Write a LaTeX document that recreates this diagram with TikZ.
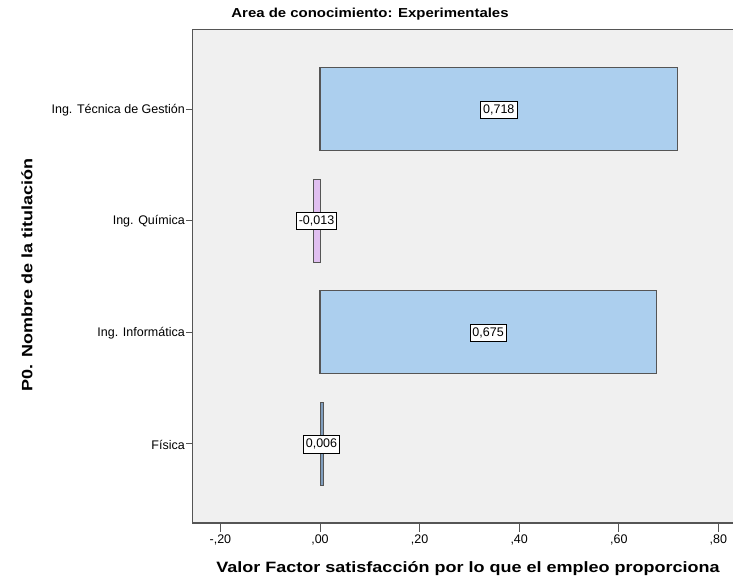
\documentclass[tikz,border=0pt]{standalone}
\usepackage{fontspec}
\setmainfont{Liberation Sans}
\usetikzlibrary{calc}

\definecolor{plotbg}{HTML}{F0F0F0}
\definecolor{framegray}{HTML}{555555}
\definecolor{barblue}{HTML}{ACCFEE}
\definecolor{barlilac}{HTML}{E0BFF0}
\definecolor{barsteel}{HTML}{7F9DBD}

\begin{document}
\begin{tikzpicture}[x=1pt,y=-1pt,
    bar/.style={draw=framegray,line width=1.2pt},
    valbox/.style={draw=black,fill=white,line width=0.8pt,inner xsep=2.5pt,inner ysep=3.5pt,font=\fontsize{12.5}{12.5}\selectfont},
    catlabel/.style={anchor=east,inner sep=1pt,font=\fontsize{12.5}{12.5}\selectfont},
    ticklabel/.style={anchor=north,inner sep=1pt,font=\fontsize{12.5}{12.5}\selectfont},
    axtitle/.style={font=\bfseries\fontsize{15}{15}\selectfont}]
  \useasboundingbox (0,0) rectangle (733,581);
  \fill[white] (0,0) rectangle (733,581);

  % plot area, right side runs off the page
  \fill[plotbg] (192.5,29.3) rectangle (733,523);
  \draw[framegray,line width=1.5pt] (733,29.3) -- (192.5,29.3) -- (192.5,523) -- (733,523);

  \node[font=\bfseries\fontsize{13}{13}\selectfont] (title) at (370,14) {\scalebox{1.15}[1]{Area de conocimiento: Experimentales}};

  % bars: zero at x=320, 498 per unit
  \draw[bar,fill=barblue]  (320,67.7)  rectangle ({320+498*0.718},150.7);
  \draw[bar,fill=barlilac,line width=0.9pt] (320,179.2) rectangle ({320-498*0.013},262.2);
  \draw[bar,fill=barblue]  (320,290.8) rectangle ({320+498*0.675},373.8);
  \draw[bar,fill=barsteel,line width=0.7pt] (320,402.3) rectangle ({320+498*0.006},485.3);

  \node[valbox] (v1) at ({320+249*0.718},110.2) {0,718};
  \node[valbox] (v2) at (316.5,221.2) {-0,013};
  \node[valbox] (v3) at ({320+249*0.675},333) {0,675};
  \node[valbox] (v4) at (321.5,444.3) {0,006};

  % category axis
  \draw[framegray,line width=1pt] (186,109.2) -- (192.5,109.2)
    (186,220.7) -- (192.5,220.7) (186,332.3) -- (192.5,332.3) (186,443.8) -- (192.5,443.8);
  \node[catlabel] (c1) at (186,110) {Ing. Técnica de Gestión};
  \node[catlabel] (c2) at (186,221.5) {Ing. Química};
  \node[catlabel] (c3) at (186,333) {Ing. Informática};
  \node[catlabel] (c4) at (186,444.5) {Física};
  \node[axtitle,rotate=90] (ytitle) at (27,275) {\scalebox{1.2}[1]{P0. Nombre de la titulación}};

  % value axis
  \foreach \v/\lab in {-0.2/{-,20},0/{,00},0.2/{,20},0.4/{,40},0.6/{,60},0.8/{,80}} {
    \draw[framegray,line width=1pt] ({320+498*\v},523) -- ({320+498*\v},531.5);
    \node[ticklabel] at ({320+498*\v},534) {\lab};
  }
  \node[axtitle] (xtitle) at (468,569) {\scalebox{1.2}[1]{Valor Factor satisfacción por lo que el empleo proporciona}};
\end{tikzpicture}
\end{document}
